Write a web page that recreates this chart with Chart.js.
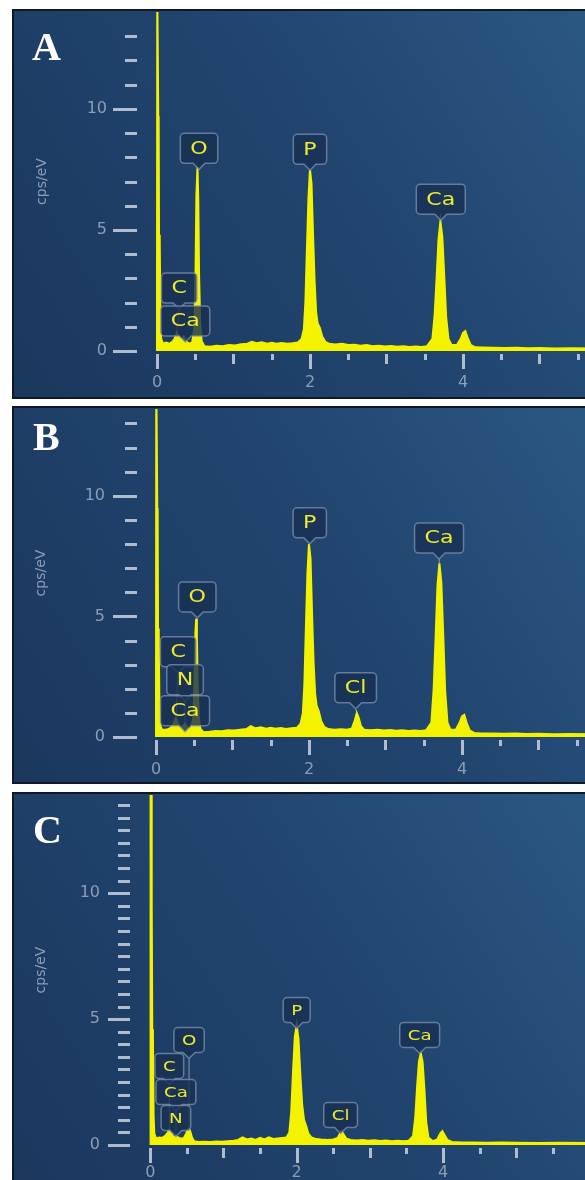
<!DOCTYPE html>
<html>
<head>
<meta charset="utf-8">
<script src="https://cdn.jsdelivr.net/npm/chart.js@4.4.0/dist/chart.umd.min.js"></script>
<style>
  body { margin: 0; background: #fff; width: 585px; height: 1180px; overflow: hidden; position: relative; }
  .panel { position: absolute; left: 12px; width: 620px; border: 2px solid #101826; background: #1e3d66; overflow: hidden; }
  .panel canvas { display: block; }
</style>
</head>
<body>
<div class="panel" style="top:9px;height:386px"><canvas id="chartA" width="600" height="386"></canvas></div>
<div class="panel" style="top:406px;height:374px"><canvas id="chartB" width="600" height="374"></canvas></div>
<div class="panel" style="top:792px;height:396px"><canvas id="chartC" width="600" height="396"></canvas></div>
<script>
// EDS spectra (energy in keV, intensity in cps/eV)
const energyA = [0, 0.004, 0.012, 0.017, 0.022, 0.027, 0.036, 0.045, 0.055, 0.08, 0.12, 0.16, 0.2, 0.23, 0.26, 0.29, 0.32, 0.35, 0.38, 0.42, 0.46, 0.49, 0.505, 0.515, 0.53, 0.54, 0.55, 0.565, 0.585, 0.62, 0.7, 0.78, 0.86, 0.94, 1.02, 1.1, 1.18, 1.24, 1.3, 1.37, 1.44, 1.5, 1.56, 1.63, 1.7, 1.77, 1.84, 1.89, 1.92, 1.94, 1.96, 1.98, 2.0, 2.02, 2.04, 2.06, 2.08, 2.1, 2.13, 2.16, 2.2, 2.25, 2.33, 2.42, 2.5, 2.58, 2.66, 2.74, 2.82, 2.9, 2.98, 3.06, 3.14, 3.22, 3.3, 3.38, 3.46, 3.53, 3.6, 3.63, 3.655, 3.68, 3.705, 3.73, 3.755, 3.78, 3.81, 3.85, 3.92, 3.97, 4.0, 4.03, 4.06, 4.1, 4.16, 4.25, 4.4, 4.55, 4.7, 4.85, 5.0, 5.2, 5.4, 5.7, 6.0];
const countsA = [0, 15, 15, 9.7, 9.6, 4.8, 4.6, 1.4, 0.5, 0.3, 0.35, 0.3, 0.38, 0.5, 0.75, 0.55, 0.45, 0.6, 0.4, 0.3, 0.35, 1.0, 3.5, 6.4, 7.6, 6.2, 3.2, 1.1, 0.4, 0.2, 0.18, 0.22, 0.2, 0.25, 0.23, 0.28, 0.3, 0.38, 0.32, 0.36, 0.3, 0.34, 0.3, 0.33, 0.3, 0.32, 0.35, 0.5, 0.9, 2.0, 4.2, 6.3, 7.5, 6.9, 4.8, 2.9, 1.6, 1.15, 0.95, 0.6, 0.38, 0.3, 0.27, 0.3, 0.25, 0.26, 0.22, 0.25, 0.2, 0.22, 0.19, 0.21, 0.18, 0.2, 0.17, 0.19, 0.17, 0.2, 0.5, 1.5, 3.0, 4.6, 5.35, 4.7, 3.1, 1.4, 0.5, 0.25, 0.25, 0.5, 0.75, 0.82, 0.55, 0.25, 0.15, 0.14, 0.13, 0.12, 0.13, 0.11, 0.12, 0.1, 0.11, 0.1, 0.1];

const energyB = [0, 0.004, 0.012, 0.017, 0.022, 0.027, 0.036, 0.045, 0.055, 0.08, 0.12, 0.16, 0.2, 0.23, 0.26, 0.29, 0.32, 0.35, 0.38, 0.41, 0.45, 0.49, 0.505, 0.515, 0.525, 0.535, 0.545, 0.56, 0.58, 0.62, 0.7, 0.78, 0.86, 0.94, 1.02, 1.1, 1.18, 1.24, 1.3, 1.37, 1.44, 1.5, 1.56, 1.63, 1.7, 1.77, 1.84, 1.89, 1.92, 1.94, 1.96, 1.98, 2.0, 2.02, 2.04, 2.06, 2.08, 2.1, 2.13, 2.16, 2.2, 2.25, 2.33, 2.42, 2.5, 2.56, 2.6, 2.625, 2.65, 2.68, 2.72, 2.8, 2.9, 2.98, 3.06, 3.14, 3.22, 3.3, 3.38, 3.46, 3.53, 3.6, 3.63, 3.655, 3.68, 3.705, 3.73, 3.755, 3.78, 3.81, 3.85, 3.92, 3.97, 4.0, 4.03, 4.06, 4.1, 4.16, 4.25, 4.4, 4.55, 4.7, 4.85, 5.0, 5.2, 5.4, 5.7, 6.0];
const countsB = [0, 15, 15, 9.5, 9.4, 4.5, 4.3, 1.3, 0.5, 0.3, 0.3, 0.32, 0.4, 0.55, 0.8, 0.55, 0.4, 0.45, 0.55, 0.4, 0.3, 0.8, 2.6, 4.3, 4.9, 4.1, 2.2, 0.8, 0.35, 0.2, 0.22, 0.25, 0.24, 0.28, 0.27, 0.3, 0.33, 0.45, 0.36, 0.4, 0.34, 0.38, 0.34, 0.37, 0.33, 0.36, 0.38, 0.55, 1.0, 2.2, 4.6, 6.8, 8.0, 7.4, 5.1, 3.1, 1.8, 1.3, 1.05, 0.65, 0.42, 0.33, 0.3, 0.32, 0.3, 0.35, 0.7, 1.0, 0.8, 0.45, 0.3, 0.28, 0.3, 0.27, 0.29, 0.26, 0.28, 0.25, 0.27, 0.25, 0.28, 0.6, 2.0, 4.1, 6.3, 7.2, 6.4, 4.2, 1.9, 0.6, 0.3, 0.3, 0.6, 0.85, 0.92, 0.6, 0.28, 0.17, 0.15, 0.14, 0.13, 0.14, 0.12, 0.13, 0.11, 0.12, 0.11, 0.1];

const energyC = [0, 0.004, 0.012, 0.017, 0.022, 0.027, 0.036, 0.045, 0.055, 0.08, 0.12, 0.16, 0.2, 0.23, 0.26, 0.29, 0.32, 0.35, 0.38, 0.42, 0.46, 0.49, 0.51, 0.53, 0.55, 0.57, 0.6, 0.66, 0.74, 0.82, 0.9, 0.98, 1.06, 1.14, 1.2, 1.26, 1.32, 1.38, 1.44, 1.5, 1.56, 1.62, 1.68, 1.74, 1.8, 1.86, 1.9, 1.925, 1.95, 1.975, 2.0, 2.025, 2.05, 2.075, 2.1, 2.13, 2.16, 2.2, 2.25, 2.33, 2.42, 2.5, 2.56, 2.59, 2.615, 2.64, 2.68, 2.74, 2.82, 2.9, 2.98, 3.06, 3.14, 3.22, 3.3, 3.38, 3.46, 3.53, 3.59, 3.62, 3.645, 3.67, 3.695, 3.72, 3.745, 3.77, 3.8, 3.86, 3.92, 3.96, 3.99, 4.02, 4.06, 4.12, 4.25, 4.4, 4.6, 4.8, 5.0, 5.3, 5.6, 6.0, 6.4];
const countsC = [0, 15, 15, 9.7, 9.6, 4.6, 4.4, 1.2, 0.45, 0.25, 0.3, 0.28, 0.35, 0.45, 0.6, 0.45, 0.3, 0.35, 0.3, 0.25, 0.28, 0.45, 0.6, 0.65, 0.5, 0.3, 0.15, 0.12, 0.13, 0.12, 0.14, 0.13, 0.15, 0.17, 0.2, 0.3, 0.22, 0.26, 0.2, 0.28, 0.22, 0.3, 0.24, 0.26, 0.28, 0.3, 0.5, 1.3, 2.9, 4.3, 4.76, 4.2, 2.8, 1.6, 1.0, 0.75, 0.45, 0.3, 0.25, 0.22, 0.2, 0.22, 0.28, 0.45, 0.55, 0.42, 0.25, 0.2, 0.18, 0.2, 0.17, 0.19, 0.16, 0.18, 0.15, 0.17, 0.15, 0.17, 0.35, 1.1, 2.3, 3.3, 3.65, 3.3, 2.2, 0.9, 0.3, 0.15, 0.22, 0.45, 0.55, 0.4, 0.2, 0.12, 0.1, 0.1, 0.09, 0.1, 0.09, 0.08, 0.09, 0.08, 0.08];

// peak tags: element, peak energy, peak height, tag energy, tag level
const tagsA = [['O', 0.53, 7.6, 0.55, 8.37], ['P', 2.0, 7.5, 2.0, 8.33], ['Ca', 3.705, 5.35, 3.71, 6.27], ['C', 0.26, 0.75, 0.29, 2.6], ['Ca', 0.35, 0.6, 0.37, 1.24]];
const tagsB = [['O', 0.525, 4.9, 0.54, 5.81], ['C', 0.26, 0.8, 0.29, 3.53], ['N', 0.38, 0.55, 0.38, 2.37], ['Ca', 0.35, 0.45, 0.38, 1.09], ['P', 2.0, 8.0, 2.01, 8.88], ['Cl', 2.625, 1.0, 2.61, 2.04], ['Ca', 3.705, 7.2, 3.7, 8.25]];
const tagsC = [['O', 0.53, 0.65, 0.53, 4.17], ['C', 0.26, 0.6, 0.26, 3.14], ['Ca', 0.35, 0.35, 0.35, 2.1], ['N', 0.38, 0.3, 0.35, 1.07], ['P', 2.0, 4.76, 2.0, 5.36], ['Cl', 2.615, 0.55, 2.6, 1.19], ['Ca', 3.695, 3.65, 3.68, 4.37]];

// axis ticks
const yTicksAB = [0, 1, 2, 3, 4, 5, 6, 7, 8, 9, 10, 11, 12, 13];
const yTicksC = [0, 0.5, 1, 1.5, 2, 2.5, 3, 3.5, 4, 4.5, 5, 5.5, 6, 6.5, 7, 7.5, 8, 8.5, 9, 9.5, 10, 10.5, 11, 11.5, 12, 12.5, 13, 13.5];
const yLabels = [0, 5, 10];
const xTicksAB = [0, 0.5, 1, 1.5, 2, 2.5, 3, 3.5, 4, 4.5, 5, 5.5];
const xTicksC = [0, 0.5, 1, 1.5, 2, 2.5, 3, 3.5, 4, 4.5, 5, 5.5, 6];
const xLabelsAB = [0, 2, 4];
const xLabelsC = [0, 2, 4, 6];

Chart.defaults.font.family = "'DejaVu Sans', sans-serif";
const axisGrey = '#8c9db6';

// background, tick marks, peak tags and panel letter
const edsPlugin = {
  id: 'eds',
  beforeDraw(chart) {
    const { ctx, width, height } = chart;
    const g = ctx.createLinearGradient(0, height, width, 0);
    g.addColorStop(0, '#1b375e');
    g.addColorStop(0.55, '#21456f');
    g.addColorStop(1, '#2b5984');
    ctx.save();
    ctx.fillStyle = g;
    ctx.fillRect(0, 0, width, height);
    ctx.restore();
  },
  afterDatasetsDraw(chart) {
    const p = chart.options.plugins.eds;
    const { ctx, chartArea: a } = chart;
    const x = chart.scales.x, y = chart.scales.y;
    ctx.save();
    ctx.strokeStyle = 'rgba(200,210,225,0.85)';
    ctx.lineWidth = 3;
    p.yTicks.forEach(v => {
      const yy = Math.round(y.getPixelForValue(v)) + 0.5;
      const len = p.yLabels.includes(v) ? p.yMajorLen : 12;
      ctx.beginPath();
      ctx.moveTo(a.left - len, yy);
      ctx.lineTo(a.left, yy);
      ctx.stroke();
    });
    p.xTicks.forEach(v => {
      const xx = Math.round(x.getPixelForValue(v)) + 0.5;
      let len = 6;
      if (Number.isInteger(v)) len = 10;
      if (p.xLabels.includes(v)) len = 15;
      ctx.beginPath();
      ctx.moveTo(xx, a.bottom + 3);
      ctx.lineTo(xx, a.bottom + 3 + len);
      ctx.stroke();
    });

    // element tags
    ctx.font = p.tagFont;
    ctx.textAlign = 'center';
    ctx.textBaseline = 'middle';
    p.tags.forEach(t => {
      const cx = x.getPixelForValue(t[3]), cy = y.getPixelForValue(t[4]);
      const px = x.getPixelForValue(t[1]), py = y.getPixelForValue(t[2]);
      const w = ctx.measureText(t[0]).width * 1.3 + p.tagPad, h = p.tagH;
      const l = cx - w / 2, r = cx + w / 2, tp = cy - h / 2, bt = cy + h / 2, rad = 4;
      ctx.strokeStyle = 'rgba(190,200,150,0.7)';
      ctx.lineWidth = 1;
      ctx.beginPath();
      ctx.moveTo(cx, bt + 6);
      ctx.lineTo(px, py);
      ctx.stroke();
      ctx.beginPath();
      ctx.moveTo(l + rad, tp);
      ctx.lineTo(r - rad, tp);
      ctx.arcTo(r, tp, r, tp + rad, rad);
      ctx.lineTo(r, bt - rad);
      ctx.arcTo(r, bt, r - rad, bt, rad);
      ctx.lineTo(cx + 6, bt);
      ctx.lineTo(cx, bt + 6);
      ctx.lineTo(cx - 6, bt);
      ctx.lineTo(l + rad, bt);
      ctx.arcTo(l, bt, l, bt - rad, rad);
      ctx.lineTo(l, tp + rad);
      ctx.arcTo(l, tp, l + rad, tp, rad);
      ctx.closePath();
      ctx.fillStyle = 'rgba(24,47,82,0.8)';
      ctx.fill();
      ctx.strokeStyle = 'rgba(125,145,175,0.75)';
      ctx.lineWidth = 1.5;
      ctx.stroke();
      ctx.save();
      ctx.translate(cx, cy + 1);
      ctx.scale(1.3, 1);
      ctx.fillStyle = '#ecec2c';
      ctx.fillText(t[0], 0, 0);
      ctx.restore();
    });

    // panel letter
    ctx.font = "bold 40px 'Liberation Serif', serif";
    ctx.textAlign = 'left';
    ctx.textBaseline = 'alphabetic';
    ctx.fillStyle = '#ffffff';
    ctx.fillText(p.letter, p.letterX, p.letterY);
    ctx.restore();
  }
};

// keep the axes from pushing the plot area around
function noPad(s) {
  s.paddingTop = 0;
  s.paddingBottom = 0;
  s.paddingLeft = 0;
  s.paddingRight = 0;
}

function makeChart(id, cfg) {
  const points = cfg.energy.map((e, i) => ({ x: e, y: cfg.counts[i] }));
  return new Chart(document.getElementById(id), {
    type: 'line',
    data: {
      datasets: [{
        data: points,
        borderColor: '#f3f300',
        backgroundColor: '#f3f300',
        fill: 'origin',
        borderWidth: 2,
        pointRadius: 0,
        tension: 0
      }]
    },
    options: {
      responsive: false,
      animation: false,
      events: [],
      layout: { autoPadding: false, padding: { top: 1, left: cfg.padLeft, right: 0, bottom: 0 } },
      plugins: {
        legend: { display: false },
        tooltip: { enabled: false },
        eds: {
          yTicks: cfg.yTicks, yLabels: yLabels, yMajorLen: cfg.yMajorLen,
          xTicks: cfg.xTicks, xLabels: cfg.xLabels,
          tags: cfg.tags, tagFont: cfg.tagFont, tagPad: cfg.tagPad, tagH: cfg.tagH,
          letter: cfg.letter, letterX: cfg.letterX, letterY: cfg.letterY
        }
      },
      scales: {
        x: {
          type: 'linear',
          min: cfg.xMin,
          max: cfg.xMax,
          grid: { display: false, drawTicks: false },
          border: { display: false },
          afterBuildTicks: s => { s.ticks = cfg.xTicks.map(v => ({ value: v })); },
          afterFit: s => { s.height = cfg.xHeight; noPad(s); },
          ticks: {
            autoSkip: false, maxRotation: 0, padding: cfg.xPad,
            color: axisGrey, font: { size: 16 },
            callback: v => cfg.xLabels.includes(v) ? String(v) : ''
          }
        },
        y: {
          min: 0,
          max: cfg.yMax,
          grid: { display: false, drawTicks: false },
          border: { display: false },
          afterBuildTicks: s => { s.ticks = cfg.yTicks.map(v => ({ value: v })); },
          afterFit: s => { s.width = cfg.yWidth; noPad(s); },
          title: { display: true, text: 'cps/eV', color: axisGrey, font: { size: 14 }, padding: { top: 4, bottom: 0 } },
          ticks: {
            autoSkip: false, padding: cfg.yPad,
            color: axisGrey, font: { size: 16 },
            callback: v => yLabels.includes(v) ? String(v) : ''
          }
        }
      }
    },
    plugins: [edsPlugin]
  });
}

makeChart('chartA', {
  energy: energyA, counts: countsA, tags: tagsA, letter: 'A', letterX: 18, letterY: 49,
  xMin: -0.261, xMax: 5.974, yMax: 14, padLeft: 16, yWidth: 107, xHeight: 46, xPad: 22, yPad: 30,
  yTicks: yTicksAB, yMajorLen: 24, xTicks: xTicksAB, xLabels: xLabelsAB,
  tagFont: "17px 'DejaVu Sans'", tagPad: 20, tagH: 30
});
makeChart('chartB', {
  energy: energyB, counts: countsB, tags: tagsB, letter: 'B', letterX: 19, letterY: 42,
  xMin: -0.248, xMax: 5.987, yMax: 13.6, padLeft: 15, yWidth: 108, xHeight: 45, xPad: 23, yPad: 32,
  yTicks: yTicksAB, yMajorLen: 24, xTicks: xTicksAB, xLabels: xLabelsAB,
  tagFont: "17px 'DejaVu Sans'", tagPad: 20, tagH: 30
});
makeChart('chartC', {
  energy: energyC, counts: countsC, tags: tagsC, letter: 'C', letterX: 19, letterY: 49,
  xMin: -0.277, xMax: 6.335, yMax: 13.9, padLeft: 15, yWidth: 101, xHeight: 45, xPad: 18, yPad: 30,
  yTicks: yTicksC, yMajorLen: 22, xTicks: xTicksC, xLabels: xLabelsC,
  tagFont: "14px 'DejaVu Sans'", tagPad: 16, tagH: 25
});
</script>
</body>
</html>
